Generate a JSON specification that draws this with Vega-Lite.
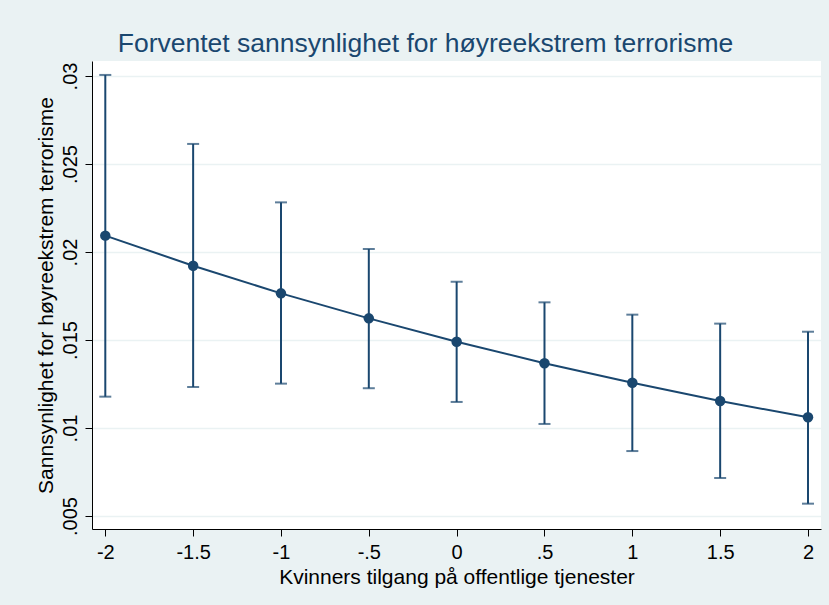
{
  "$schema": "https://vega.github.io/schema/vega-lite/v6.json",
  "autosize": {"type": "none"},
  "width": 729,
  "height": 468,
  "padding": {"left": 92, "top": 61, "right": 8, "bottom": 76},
  "background": "#eaf2f3",
  "view": {"fill": "white", "stroke": null},
  "config": {
    "font": "Liberation Sans",
    "axis": {
      "domainColor": "black",
      "domainWidth": 1,
      "tickColor": "black",
      "tickSize": 7,
      "labelColor": "black",
      "titleColor": "black",
      "labelFont": "Liberation Sans",
      "titleFont": "Liberation Sans",
      "labelFontSize": 20,
      "titleFontSize": 21,
      "titleFontWeight": "normal"
    }
  },
  "title": {
    "text": "Forventet sannsynlighet for høyreekstrem terrorisme",
    "color": "#1a476f",
    "fontSize": 26.5,
    "fontWeight": "normal",
    "font": "Liberation Sans",
    "anchor": "middle",
    "dx": -31,
    "dy": 26,
    "baseline": "alphabetic",
    "offset": 9
  },
  "data": {
    "values": [
      {"x": -2, "p": 0.02093, "lo": 0.01178, "hi": 0.03006},
      {"x": -1.5, "p": 0.01922, "lo": 0.01233, "hi": 0.02614},
      {"x": -1, "p": 0.01765, "lo": 0.01252, "hi": 0.02282},
      {"x": -0.5, "p": 0.01623, "lo": 0.01226, "hi": 0.02017},
      {"x": 0, "p": 0.0149, "lo": 0.01148, "hi": 0.01831},
      {"x": 0.5, "p": 0.01368, "lo": 0.01023, "hi": 0.01714},
      {"x": 1, "p": 0.01257, "lo": 0.00869, "hi": 0.01644},
      {"x": 1.5, "p": 0.01153, "lo": 0.00716, "hi": 0.01593},
      {"x": 2, "p": 0.01061, "lo": 0.0057, "hi": 0.01547}
    ]
  },
  "encoding": {
    "x": {
      "field": "x",
      "type": "quantitative",
      "scale": {"domain": [-2.0757, 2.074], "nice": false, "zero": false},
      "axis": {
        "title": "Kvinners tilgang på offentlige tjenester",
        "values": [-2, -1.5, -1, -0.5, 0, 0.5, 1, 1.5, 2],
        "labelExpr": "replace('' + datum.value, '0.', '.')",
        "grid": false,
        "labelPadding": 6,
        "titlePadding": 4
      }
    }
  },
  "layer": [
    {
      "mark": {"type": "rule", "color": "#1a476f", "strokeWidth": 2},
      "encoding": {
        "y": {
          "field": "lo",
          "type": "quantitative",
          "scale": {"domain": [0.004261, 0.030852], "nice": false, "zero": false},
          "axis": {
            "title": "Sannsynlighet for høyreekstrem terrorisme",
            "values": [0.005, 0.01, 0.015, 0.02, 0.025, 0.03],
            "labelExpr": "replace(format(datum.value, '.3~f'), '0.', '.')",
            "labelAngle": 270,
            "labelAlign": "center",
            "labelBaseline": "alphabetic",
            "labelPadding": 9,
            "titlePadding": 4,
            "grid": true,
            "gridColor": "#eaf2f3",
            "gridWidth": 1.5
          }
        },
        "y2": {"field": "hi"}
      }
    },
    {
      "mark": {"type": "tick", "orient": "horizontal", "color": "#1a476f", "thickness": 2, "size": 12},
      "encoding": {"y": {"field": "lo", "type": "quantitative"}}
    },
    {
      "mark": {"type": "tick", "orient": "horizontal", "color": "#1a476f", "thickness": 2, "size": 12},
      "encoding": {"y": {"field": "hi", "type": "quantitative"}}
    },
    {
      "mark": {"type": "line", "color": "#1a476f", "strokeWidth": 2},
      "encoding": {"y": {"field": "p", "type": "quantitative"}}
    },
    {
      "mark": {"type": "point", "filled": true, "shape": "circle", "color": "#1a476f", "size": 110, "opacity": 1},
      "encoding": {"y": {"field": "p", "type": "quantitative"}}
    }
  ]
}
